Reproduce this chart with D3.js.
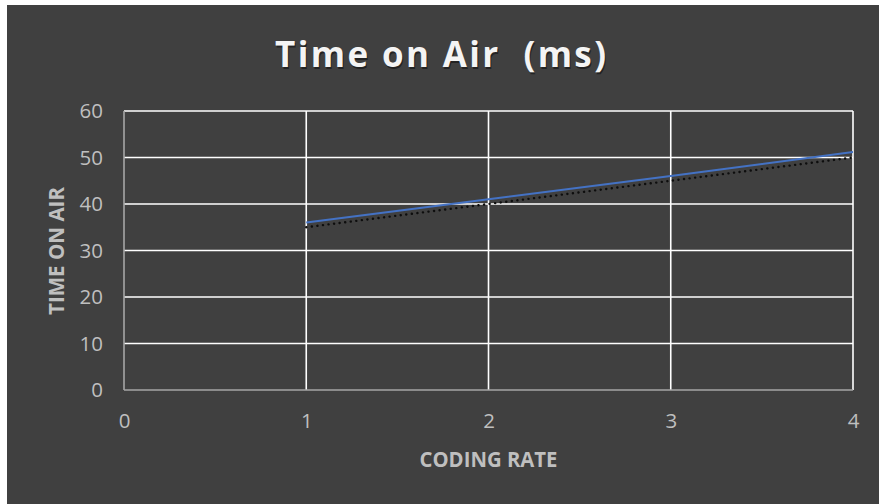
<!DOCTYPE html>
<html>
<head>
<meta charset="utf-8">
<script src="https://cdn.jsdelivr.net/npm/d3@7"></script>
<style>
  html, body { margin: 0; padding: 0; background: #ffffff; }
  svg { display: block; }
</style>
</head>
<body>
<svg id="chart" width="879" height="504"></svg>
<script>
// Coding rate vs. time on air, with a linear trendline
const codingRate = [1, 2, 3, 4];
const timeOnAir = [36, 41, 46, 51.2];
const trendValues = [35, 40, 45, 50];
const xTicks = [0, 1, 2, 3, 4];
const yTicks = [0, 10, 20, 30, 40, 50, 60];

(function () {
  const svg = d3.select("#chart");
  const W = 879, H = 504;

  // chart panel
  svg.append("rect")
    .attr("x", 7).attr("y", 5)
    .attr("width", W - 7).attr("height", H - 5)
    .attr("fill", "#404040");

  const plot = { left: 124, right: 853, top: 111, bottom: 390 };
  const x = d3.scaleLinear().domain([0, 4]).range([plot.left, plot.right]);
  const y = d3.scaleLinear().domain([0, 60]).range([plot.bottom, plot.top]);

  const font = "'Open Sans', 'Liberation Sans', sans-serif";
  const labelColor = "#bfbfbf";

  // title with a soft shadow
  const titleText = "Time on Air\u00a0\u00a0(ms)";
  const title = svg.append("g");
  [{ fill: "#111111", op: 0.6, dx: 1, dy: 1.5 }, { fill: "#f4f4f4", op: 1, dx: 0, dy: 0 }]
    .forEach(s => {
      title.append("text")
        .attr("x", 440.5 + s.dx).attr("y", 67 + s.dy)
        .attr("text-anchor", "middle")
        .attr("font-family", font).attr("font-weight", 700)
        .attr("font-size", 35)
        .attr("textLength", 331).attr("lengthAdjust", "spacing")
        .attr("fill", s.fill).attr("opacity", s.op)
        .text(titleText);
    });

  // gridlines
  svg.append("g").selectAll("line")
    .data(yTicks.filter(d => d > 0))
    .join("line")
    .attr("x1", plot.left).attr("x2", plot.right)
    .attr("y1", d => y(d)).attr("y2", d => y(d))
    .attr("stroke", "#ffffff").attr("stroke-width", 1.6);

  svg.append("g").selectAll("line")
    .data(xTicks.filter(d => d > 0))
    .join("line")
    .attr("x1", d => x(d)).attr("x2", d => x(d))
    .attr("y1", plot.top).attr("y2", plot.bottom)
    .attr("stroke", "#ffffff").attr("stroke-width", 1.6);

  // axis lines
  svg.append("line")
    .attr("x1", plot.left).attr("x2", plot.left).attr("y1", plot.top).attr("y2", plot.bottom)
    .attr("stroke", "#a6a6a6").attr("stroke-width", 1.6);
  svg.append("line")
    .attr("x1", plot.left).attr("x2", plot.right).attr("y1", plot.bottom).attr("y2", plot.bottom)
    .attr("stroke", "#a6a6a6").attr("stroke-width", 1.6);

  // tick labels
  const yAxis = d3.axisLeft(y).tickValues(yTicks).tickFormat(d3.format("d"))
    .tickSize(0).tickPadding(21);
  const gy = svg.append("g").attr("transform", `translate(${plot.left},0)`).call(yAxis);
  gy.select(".domain").remove();
  gy.selectAll("text")
    .attr("font-family", font).attr("font-size", 20.5).attr("fill", labelColor);

  const xAxis = d3.axisBottom(x).tickValues(xTicks).tickFormat(d3.format("d"))
    .tickSize(0).tickPadding(23);
  const gx = svg.append("g").attr("transform", `translate(0,${plot.bottom})`).call(xAxis);
  gx.select(".domain").remove();
  gx.selectAll("text")
    .attr("font-family", font).attr("font-size", 20.5).attr("fill", labelColor);

  // axis titles
  svg.append("text")
    .attr("x", x(2)).attr("y", 467)
    .attr("text-anchor", "middle")
    .attr("font-family", font).attr("font-weight", 700)
    .attr("font-size", 21)
    .attr("textLength", 138).attr("lengthAdjust", "spacingAndGlyphs")
    .attr("fill", labelColor)
    .text("CODING RATE");

  svg.append("text")
    .attr("transform", "translate(64,251) rotate(-90)")
    .attr("text-anchor", "middle")
    .attr("font-family", font).attr("font-weight", 700)
    .attr("font-size", 21)
    .attr("textLength", 128).attr("lengthAdjust", "spacingAndGlyphs")
    .attr("fill", labelColor)
    .text("TIME ON AIR");

  // dotted trendline
  const line = d3.line().x((d, i) => x(codingRate[i])).y(d => y(d));
  svg.append("path")
    .datum(trendValues)
    .attr("d", line)
    .attr("fill", "none")
    .attr("stroke", "#0d0d0d").attr("stroke-width", 2.4)
    .attr("stroke-linecap", "round")
    .attr("stroke-dasharray", "0.1 5.5");

  // data series
  svg.append("path")
    .datum(timeOnAir)
    .attr("d", line)
    .attr("fill", "none")
    .attr("stroke", "#4472c4").attr("stroke-width", 2);
})();
</script>
</body>
</html>
